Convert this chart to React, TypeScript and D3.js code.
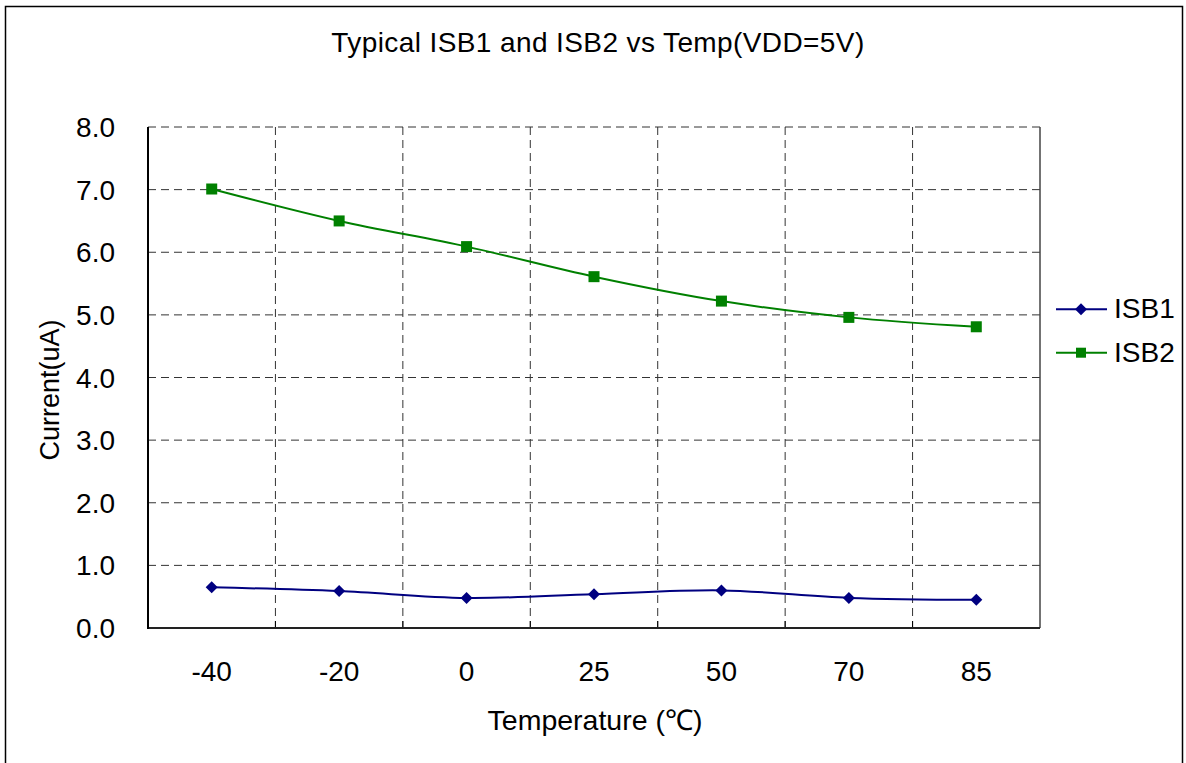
import React from "react";
import * as d3 from "d3";

const categories = ["-40", "-20", "0", "25", "50", "70", "85"];
const isb1 = [0.65, 0.59, 0.48, 0.54, 0.6, 0.48, 0.45];
const isb2 = [7.01, 6.5, 6.09, 5.61, 5.22, 4.96, 4.81];
const yTicks = [0, 1, 2, 3, 4, 5, 6, 7, 8];
const seriesNames = ["ISB1", "ISB2"];
const seriesColors = ["#000080", "#008000"];

const W = 1186;
const H = 763;
const L = 148, R = 1040, T = 127, B = 628;
const FONT = "'Liberation Sans', Arial, sans-serif";

export default function App() {
  const x = d3.scaleBand<string>().domain(categories).range([L, R]).padding(0);
  const y = d3.scaleLinear().domain([0, 8]).range([B, T]);
  const line = d3
    .line<number>()
    .x((_, i) => (x(categories[i]) as number) + x.bandwidth() / 2)
    .y((d) => y(d))
    .curve(d3.curveCatmullRom.alpha(0.5));
  const cx = (i: number) => (x(categories[i]) as number) + x.bandwidth() / 2;
  const boundaries = categories.slice(1).map((c) => x(c) as number);
  const series = [isb1, isb2];

  return (
    <svg width={W} height={H} style={{ position: "absolute", left: 0, top: 0, display: "block" }}>
      <rect x={0} y={0} width={W} height={H} fill="#fff" />
      <rect x={5.5} y={6.5} width={1177} height={780} fill="none" stroke="#000" strokeWidth={1.5} />
      <text x={598} y={52} textAnchor="middle" fontFamily={FONT} fontSize={28} letterSpacing={0.4} fill="#000">
        Typical ISB1 and ISB2 vs Temp(VDD=5V)
      </text>
      {/* horizontal gridlines */}
      {yTicks.slice(1).map((t) => (
        <line key={"h" + t} x1={L} x2={R} y1={y(t)} y2={y(t)} stroke="#333" strokeWidth={1} strokeDasharray="8,5" />
      ))}
      {/* vertical gridlines */}
      {boundaries.map((b, i) => (
        <line key={"v" + i} x1={b} x2={b} y1={T} y2={B} stroke="#333" strokeWidth={1} strokeDasharray="8,5" />
      ))}
      {/* x-axis ticks */}
      {boundaries.map((b, i) => (
        <line key={"xt" + i} x1={b} x2={b} y1={B - 7} y2={B} stroke="#000" strokeWidth={1} />
      ))}
      <line x1={R} x2={R} y1={T} y2={B} stroke="#444" strokeWidth={1.5} />
      <line x1={L} x2={R} y1={B} y2={B} stroke="#222" strokeWidth={2} />
      <line x1={L} x2={L} y1={T} y2={B + 1} stroke="#000" strokeWidth={2} />
      {/* y tick labels */}
      {yTicks.map((t) => (
        <text key={"yl" + t} x={115} y={y(t) + 10} textAnchor="end" fontFamily={FONT} fontSize={28} fill="#000">
          {t.toFixed(1)}
        </text>
      ))}
      {/* x tick labels */}
      {categories.map((c, i) => (
        <text key={"xl" + c} x={cx(i)} y={681} textAnchor="middle" fontFamily={FONT} fontSize={28} fill="#000">
          {c}
        </text>
      ))}
      <text x={595} y={730} textAnchor="middle" fontFamily={FONT} fontSize={28.5} fill="#000">
        Temperature (℃)
      </text>
      <text
        transform={`translate(59,390) rotate(-90)`}
        textAnchor="middle"
        fontFamily={FONT}
        fontSize={27}
        fill="#000"
      >
        Current(uA)
      </text>
      {/* series */}
      {series.map((s, si) => (
        <g key={"s" + si}>
          <path d={line(s) as string} fill="none" stroke={seriesColors[si]} strokeWidth={2} />
          {s.map((v, i) =>
            si === 0 ? (
              <path
                key={i}
                transform={`translate(${cx(i)},${y(v)})`}
                d="M0,-6L6,0L0,6L-6,0Z"
                fill={seriesColors[si]}
              />
            ) : (
              <rect key={i} x={cx(i) - 5.5} y={y(v) - 5.5} width={11} height={11} fill={seriesColors[si]} />
            )
          )}
        </g>
      ))}
      {/* legend */}
      {seriesNames.map((n, i) => {
        const ly = 309.3 + i * 43.4;
        return (
          <g key={"lg" + n}>
            <line x1={1056} x2={1107} y1={ly} y2={ly} stroke={seriesColors[i]} strokeWidth={2} />
            {i === 0 ? (
              <path transform={`translate(1081,${ly})`} d="M0,-6L6,0L0,6L-6,0Z" fill={seriesColors[i]} />
            ) : (
              <rect x={1076} y={ly - 5} width={10} height={10} fill={seriesColors[i]} />
            )}
            <text x={1114} y={ly + 9} fontFamily={FONT} fontSize={28} fill="#000">
              {n}
            </text>
          </g>
        );
      })}
    </svg>
  );
}
